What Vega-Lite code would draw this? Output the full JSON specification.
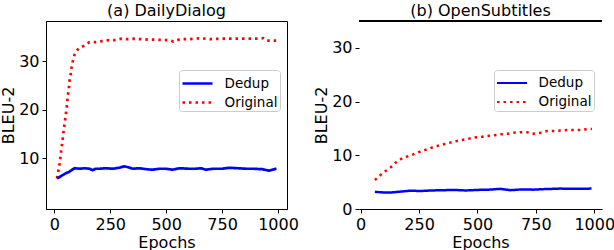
{
  "$schema": "https://vega.github.io/schema/vega-lite/v6.json",
  "padding": {"left": 0, "top": 2, "right": 0, "bottom": 0},
  "spacing": 72,
  "bounds": "flush",
  "config": {
    "font": "DejaVu Sans",
    "view": {"stroke": "black", "strokeWidth": 1},
    "axis": {
      "grid": false, "domainColor": "black", "tickColor": "black", "labelColor": "black", "titleColor": "black",
      "labelFontSize": 16, "titleFontSize": 16, "titleFontWeight": "normal", "tickSize": 4, "labelPadding": 3,
      "titlePadding": 2, "labelFlush": false, "labelOverlap": false, "labelFont": "DejaVu Sans", "titleFont": "DejaVu Sans", "format": "d"
    },
    "title": {"fontSize": 16, "fontWeight": "normal", "font": "DejaVu Sans", "color": "black", "offset": 2},
    "legend": {
      "labelFontSize": 13.5, "labelFont": "DejaVu Sans", "labelColor": "black", "strokeColor": "#cccccc", "fillColor": "white",
      "cornerRadius": 3, "padding": 2, "rowPadding": 1, "labelOffset": 20.6, "symbolType": "M-1,0H2", "symbolSize": 400
    }
  },
  "datasets": {
    "daily": [
      {"epoch": 12, "bleu": 5.8, "series": "Original"}, {"epoch": 19, "bleu": 7.6, "series": "Original"}, {"epoch": 24, "bleu": 8.9, "series": "Original"},
      {"epoch": 28, "bleu": 10.3, "series": "Original"}, {"epoch": 31, "bleu": 11.7, "series": "Original"}, {"epoch": 36, "bleu": 13.2, "series": "Original"},
      {"epoch": 39, "bleu": 14.6, "series": "Original"}, {"epoch": 43, "bleu": 16.0, "series": "Original"}, {"epoch": 47, "bleu": 17.4, "series": "Original"},
      {"epoch": 51, "bleu": 18.8, "series": "Original"}, {"epoch": 55, "bleu": 20.2, "series": "Original"}, {"epoch": 58, "bleu": 21.6, "series": "Original"},
      {"epoch": 61, "bleu": 23.0, "series": "Original"}, {"epoch": 65, "bleu": 24.3, "series": "Original"}, {"epoch": 68, "bleu": 25.8, "series": "Original"},
      {"epoch": 73, "bleu": 27.2, "series": "Original"}, {"epoch": 77, "bleu": 28.6, "series": "Original"}, {"epoch": 83, "bleu": 30.0, "series": "Original"},
      {"epoch": 91, "bleu": 31.4, "series": "Original"}, {"epoch": 108, "bleu": 32.6, "series": "Original"}, {"epoch": 135, "bleu": 33.2, "series": "Original"},
      {"epoch": 157, "bleu": 33.9, "series": "Original"}, {"epoch": 184, "bleu": 33.9, "series": "Original"}, {"epoch": 214, "bleu": 34.1, "series": "Original"},
      {"epoch": 244, "bleu": 34.3, "series": "Original"}, {"epoch": 273, "bleu": 34.3, "series": "Original"}, {"epoch": 300, "bleu": 34.6, "series": "Original"},
      {"epoch": 329, "bleu": 34.5, "series": "Original"}, {"epoch": 354, "bleu": 34.6, "series": "Original"}, {"epoch": 390, "bleu": 34.5, "series": "Original"},
      {"epoch": 420, "bleu": 34.4, "series": "Original"}, {"epoch": 458, "bleu": 34.4, "series": "Original"}, {"epoch": 490, "bleu": 34.3, "series": "Original"},
      {"epoch": 515, "bleu": 34.3, "series": "Original"}, {"epoch": 532, "bleu": 34.0, "series": "Original"}, {"epoch": 562, "bleu": 34.5, "series": "Original"},
      {"epoch": 600, "bleu": 34.5, "series": "Original"}, {"epoch": 651, "bleu": 34.7, "series": "Original"}, {"epoch": 700, "bleu": 34.5, "series": "Original"},
      {"epoch": 750, "bleu": 34.6, "series": "Original"}, {"epoch": 800, "bleu": 34.6, "series": "Original"}, {"epoch": 850, "bleu": 34.6, "series": "Original"},
      {"epoch": 900, "bleu": 34.6, "series": "Original"}, {"epoch": 934, "bleu": 34.7, "series": "Original"}, {"epoch": 948, "bleu": 34.2, "series": "Original"},
      {"epoch": 993, "bleu": 34.2, "series": "Original"},
      {"epoch": 12, "bleu": 5.8, "series": "Dedup"}, {"epoch": 20, "bleu": 6.0, "series": "Dedup"}, {"epoch": 31, "bleu": 6.3, "series": "Dedup"},
      {"epoch": 42, "bleu": 6.6, "series": "Dedup"}, {"epoch": 53, "bleu": 6.9, "series": "Dedup"}, {"epoch": 68, "bleu": 7.2, "series": "Dedup"},
      {"epoch": 80, "bleu": 7.6, "series": "Dedup"}, {"epoch": 91, "bleu": 7.9, "series": "Dedup"}, {"epoch": 113, "bleu": 7.8, "series": "Dedup"},
      {"epoch": 135, "bleu": 7.9, "series": "Dedup"}, {"epoch": 157, "bleu": 7.8, "series": "Dedup"}, {"epoch": 172, "bleu": 7.5, "series": "Dedup"},
      {"epoch": 185, "bleu": 7.8, "series": "Dedup"}, {"epoch": 202, "bleu": 7.8, "series": "Dedup"}, {"epoch": 230, "bleu": 7.9, "series": "Dedup"},
      {"epoch": 261, "bleu": 7.8, "series": "Dedup"}, {"epoch": 290, "bleu": 8.0, "series": "Dedup"}, {"epoch": 313, "bleu": 8.3, "series": "Dedup"},
      {"epoch": 330, "bleu": 8.1, "series": "Dedup"}, {"epoch": 351, "bleu": 7.8, "series": "Dedup"}, {"epoch": 380, "bleu": 7.9, "series": "Dedup"},
      {"epoch": 410, "bleu": 7.7, "series": "Dedup"}, {"epoch": 440, "bleu": 7.6, "series": "Dedup"}, {"epoch": 470, "bleu": 7.8, "series": "Dedup"},
      {"epoch": 499, "bleu": 7.8, "series": "Dedup"}, {"epoch": 529, "bleu": 7.6, "series": "Dedup"}, {"epoch": 559, "bleu": 7.9, "series": "Dedup"},
      {"epoch": 600, "bleu": 7.8, "series": "Dedup"}, {"epoch": 633, "bleu": 7.8, "series": "Dedup"}, {"epoch": 655, "bleu": 7.9, "series": "Dedup"},
      {"epoch": 678, "bleu": 7.6, "series": "Dedup"}, {"epoch": 710, "bleu": 7.8, "series": "Dedup"}, {"epoch": 750, "bleu": 7.8, "series": "Dedup"},
      {"epoch": 782, "bleu": 8.0, "series": "Dedup"}, {"epoch": 820, "bleu": 7.9, "series": "Dedup"}, {"epoch": 856, "bleu": 7.8, "series": "Dedup"},
      {"epoch": 890, "bleu": 7.8, "series": "Dedup"}, {"epoch": 930, "bleu": 7.7, "series": "Dedup"}, {"epoch": 960, "bleu": 7.4, "series": "Dedup"},
      {"epoch": 975, "bleu": 7.6, "series": "Dedup"}, {"epoch": 993, "bleu": 7.8, "series": "Dedup"}
    ],
    "open": [
      {"epoch": 61, "bleu": 5.4, "series": "Original"}, {"epoch": 87, "bleu": 6.4, "series": "Original"}, {"epoch": 108, "bleu": 7.1, "series": "Original"},
      {"epoch": 133, "bleu": 7.9, "series": "Original"}, {"epoch": 154, "bleu": 8.8, "series": "Original"}, {"epoch": 180, "bleu": 9.5, "series": "Original"},
      {"epoch": 209, "bleu": 9.9, "series": "Original"}, {"epoch": 233, "bleu": 10.3, "series": "Original"}, {"epoch": 262, "bleu": 10.8, "series": "Original"},
      {"epoch": 290, "bleu": 11.2, "series": "Original"}, {"epoch": 315, "bleu": 11.6, "series": "Original"}, {"epoch": 343, "bleu": 11.9, "series": "Original"},
      {"epoch": 369, "bleu": 12.2, "series": "Original"}, {"epoch": 397, "bleu": 12.5, "series": "Original"}, {"epoch": 426, "bleu": 12.8, "series": "Original"},
      {"epoch": 455, "bleu": 13.0, "series": "Original"}, {"epoch": 483, "bleu": 13.3, "series": "Original"}, {"epoch": 512, "bleu": 13.4, "series": "Original"},
      {"epoch": 541, "bleu": 13.6, "series": "Original"}, {"epoch": 569, "bleu": 13.7, "series": "Original"}, {"epoch": 598, "bleu": 13.9, "series": "Original"},
      {"epoch": 627, "bleu": 14.0, "series": "Original"}, {"epoch": 655, "bleu": 14.2, "series": "Original"}, {"epoch": 684, "bleu": 14.3, "series": "Original"},
      {"epoch": 712, "bleu": 14.3, "series": "Original"}, {"epoch": 741, "bleu": 14.0, "series": "Original"}, {"epoch": 770, "bleu": 14.2, "series": "Original"},
      {"epoch": 798, "bleu": 14.5, "series": "Original"}, {"epoch": 827, "bleu": 14.5, "series": "Original"}, {"epoch": 855, "bleu": 14.6, "series": "Original"},
      {"epoch": 884, "bleu": 14.7, "series": "Original"}, {"epoch": 913, "bleu": 14.7, "series": "Original"}, {"epoch": 941, "bleu": 14.7, "series": "Original"},
      {"epoch": 977, "bleu": 14.9, "series": "Original"}, {"epoch": 990, "bleu": 14.9, "series": "Original"},
      {"epoch": 61, "bleu": 3.2, "series": "Dedup"}, {"epoch": 90, "bleu": 3.1, "series": "Dedup"}, {"epoch": 126, "bleu": 3.05, "series": "Dedup"},
      {"epoch": 160, "bleu": 3.2, "series": "Dedup"}, {"epoch": 212, "bleu": 3.4, "series": "Dedup"}, {"epoch": 260, "bleu": 3.35, "series": "Dedup"},
      {"epoch": 300, "bleu": 3.45, "series": "Dedup"}, {"epoch": 355, "bleu": 3.5, "series": "Dedup"}, {"epoch": 400, "bleu": 3.55, "series": "Dedup"},
      {"epoch": 450, "bleu": 3.45, "series": "Dedup"}, {"epoch": 498, "bleu": 3.55, "series": "Dedup"}, {"epoch": 550, "bleu": 3.6, "series": "Dedup"},
      {"epoch": 598, "bleu": 3.75, "series": "Dedup"}, {"epoch": 641, "bleu": 3.5, "series": "Dedup"}, {"epoch": 690, "bleu": 3.65, "series": "Dedup"},
      {"epoch": 740, "bleu": 3.6, "series": "Dedup"}, {"epoch": 784, "bleu": 3.7, "series": "Dedup"}, {"epoch": 855, "bleu": 3.8, "series": "Dedup"},
      {"epoch": 920, "bleu": 3.75, "series": "Dedup"}, {"epoch": 988, "bleu": 3.8, "series": "Dedup"}
    ]
  },
  "hconcat": [
    {
      "width": 241,
      "height": 188,
      "title": {"text": "(a) DailyDialog"},
      "data": {"name": "daily"},
      "mark": {"type": "line", "strokeWidth": 2.7, "clip": true},
      "encoding": {
        "x": {"field": "epoch", "type": "quantitative", "scale": {"domain": [-37, 1040], "nice": false, "zero": false},
              "axis": {"values": [0, 250, 500, 750, 1000], "title": "Epochs"}},
        "y": {"field": "bleu", "type": "quantitative", "scale": {"domain": [-0.5, 38.25], "nice": false, "zero": false},
              "axis": {"values": [10, 20, 30], "title": "BLEU-2"}},
        "color": {"field": "series", "type": "nominal", "scale": {"domain": ["Dedup", "Original"], "range": ["#0000ff", "#ff0000"]},
                  "legend": {"title": null, "orient": "none", "legendX": 133, "legendY": 49, "symbolStrokeWidth": 2.7}},
        "strokeDash": {"field": "series", "type": "nominal", "scale": {"domain": ["Dedup", "Original"], "range": [[1, 0], [2.5, 4]]},
                  "legend": {"title": null, "orient": "none", "legendX": 133, "legendY": 49, "symbolStrokeWidth": 2.7}}
      }
    },
    {
      "width": 243,
      "height": 188,
      "title": {"text": "(b) OpenSubtitles"},
      "data": {"name": "open"},
      "view": {"stroke": null},
      "layer": [
        {
          "mark": {"type": "rule", "color": "black", "strokeWidth": 1},
          "encoding": {"y": {"datum": 35, "type": "quantitative"}}
        },
        {
          "mark": {"type": "line", "strokeWidth": 2.5, "clip": true},
          "encoding": {
            "x": {"field": "epoch", "type": "quantitative", "scale": {"domain": [-7, 1033], "nice": false, "zero": false},
                  "axis": {"values": [0, 250, 500, 750, 1000], "title": "Epochs"}},
            "y": {"field": "bleu", "type": "quantitative", "scale": {"domain": [0, 35], "nice": false, "zero": false},
                  "axis": {"values": [0, 10, 20, 30], "title": "BLEU-2", "domain": false}},
            "color": {"field": "series", "type": "nominal", "scale": {"domain": ["Dedup", "Original"], "range": ["#0000ff", "#ff0000"]},
                      "legend": {"title": null, "orient": "none", "legendX": 135, "legendY": 49, "symbolStrokeWidth": 2}},
            "strokeDash": {"field": "series", "type": "nominal", "scale": {"domain": ["Dedup", "Original"], "range": [[1, 0], [2.5, 4]]},
                      "legend": {"title": null, "orient": "none", "legendX": 135, "legendY": 49, "symbolStrokeWidth": 2}}
          }
        }
      ]
    }
  ],
  "resolve": {"scale": {"color": "independent", "strokeDash": "independent"}}
}
